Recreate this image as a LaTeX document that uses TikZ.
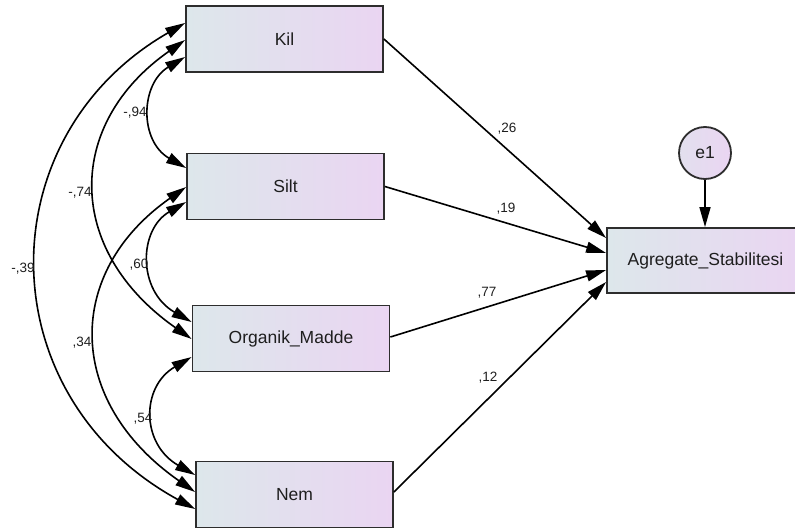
\documentclass[tikz,border=0pt]{standalone}
\usepackage{fontspec}
\setmainfont{Liberation Sans}
\usetikzlibrary{arrows.meta}
\definecolor{shadeL}{RGB}{221,231,235}
\definecolor{shadeR}{RGB}{234,213,242}
\definecolor{edge}{RGB}{45,45,45}
\definecolor{ink}{RGB}{30,30,30}
\tikzset{
  var/.style={draw=edge, line width=1.8pt, rectangle, minimum width=197pt,
    minimum height=66pt, left color=shadeL, right color=shadeR,
    text=ink, font=\fontsize{17.5}{20}\selectfont, inner sep=0pt},
  err/.style={draw=edge, line width=1.8pt, circle, minimum size=52pt,
    left color=shadeL!60!shadeR, right color=shadeR,
    text=ink, font=\fontsize{17.5}{20}\selectfont, inner sep=0pt},
  coef/.style={text=ink, font=\fontsize{13.5}{16}\selectfont, inner sep=0pt},
  path/.style={line width=1.6pt, -{Triangle[length=20pt,width=11pt]}},
  cov/.style={line width=1.6pt, {Triangle[length=20pt,width=11pt]}-{Triangle[length=20pt,width=11pt]}}
}
\begin{document}
\begin{tikzpicture}[x=1pt,y=-1pt]
\useasboundingbox (0,0) rectangle (795,532);
\clip (0,0) rectangle (795,532);

% observed variables
\node[var] (kil)  at (284.5,39)  {Kil};
\node[var] (silt) at (285.5,186.5) {Silt};
\node[var] (org)  at (291,338.5) {Organik\_Madde};
\node[var] (nem)  at (294.5,494.5) {Nem};
\node[var, minimum height=65pt] (agr) at (705.5,260.5) {Agregate\_Stabilitesi};
\node[err] (e1) at (705,153) {e1};

% regression paths
\draw[path] (kil.east)  -- ([yshift=22.5pt]agr.west);
\draw[path] (silt.east) -- ([yshift=7.5pt]agr.west);
\draw[path] ([yshift=1.5pt]org.east) -- ([yshift=-9.5pt]agr.west);
\draw[path] ([yshift=2.5pt]nem.east) -- ([yshift=-21.5pt]agr.west);
\draw[path] (e1.south) -- (agr.north -| e1.south);

% covariances
\draw[cov] ([yshift=-18pt]kil.west) .. controls +(-45,27) and +(-47,-27) .. ([yshift=18.5pt]silt.west);
\draw[cov] ([yshift=-1pt]kil.west) .. controls +(-120,84) and +(-127,-89) .. ([yshift=-0.5pt]org.west);
\draw[cov] ([yshift=16pt]kil.west) .. controls +(-198,114) and +(-208,-114) .. ([yshift=-14.5pt]nem.west);
\draw[cov] ([yshift=-15.5pt]silt.west) .. controls +(-48,28) and +(-54,-31) .. ([yshift=16.5pt]org.west);
\draw[cov] ([yshift=-0.5pt]silt.west) .. controls +(-121.5,85) and +(-130.5,-91) .. ([yshift=2.5pt]nem.west);
\draw[cov] ([yshift=-18.5pt]org.west) .. controls +(-51,30) and +(-54,-31) .. ([yshift=19.5pt]nem.west);

% estimates
\node[coef] (b1) at (507,129) {,26};
\node[coef] (b2) at (506,209) {,19};
\node[coef] (b3) at (487,293) {,77};
\node[coef] (b4) at (488,378) {,12};
\node[coef] (c1) at (135,113) {-,94};
\node[coef] (c2) at (80,193)  {-,74};
\node[coef] (c3) at (23,269)  {-,39};
\node[coef] (c4) at (139,265) {,60};
\node[coef] (c5) at (82,343)  {,34};
\node[coef] (c6) at (143,419) {,54};
\end{tikzpicture}
\end{document}
